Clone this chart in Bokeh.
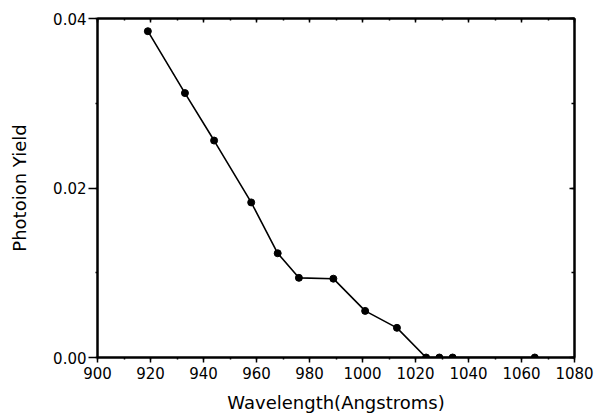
from bokeh.plotting import figure
from bokeh.models import (LinearAxis, PrintfTickFormatter, SingleIntervalTicker, Range1d,
                          CustomLabelingPolicy)
from bokeh.embed import file_html
from bokeh.resources import INLINE

wavelength = [919, 933, 944, 958, 968, 976, 989, 1001, 1013, 1024, 1029, 1034, 1065]
photoion_yield = [0.0385, 0.0312, 0.0256, 0.0183, 0.0123, 0.0094, 0.0093, 0.0055,
                  0.0035, 0.0, 0.0, 0.0, 0.0]
x_label = "Wavelength(Angstroms)"
y_label = "Photoion Yield"

FONT = "DejaVu Sans"

p = figure(width=596, height=415, output_backend="svg", toolbar_location=None,
           x_range=Range1d(900, 1080), y_range=Range1d(0, 0.04),
           x_axis_label=x_label, y_axis_label=y_label,
           min_border_left=97, min_border_right=22, min_border_top=18, min_border_bottom=57)
p.grid.visible = False
p.outline_line_color = "black"
p.outline_line_width = 2
p.background_fill_color = "white"
p.border_fill_color = "white"

xt = SingleIntervalTicker(interval=20, num_minor_ticks=2)
yt = SingleIntervalTicker(interval=0.02, num_minor_ticks=2)
p.xaxis.ticker = xt
p.yaxis.ticker = yt
p.yaxis.formatter = PrintfTickFormatter(format="%.2f")

for ax in p.xaxis + p.yaxis:
    ax.axis_line_color = "black"
    ax.axis_line_width = 2
    ax.major_tick_line_color = "black"
    ax.major_tick_line_width = 1.5
    ax.minor_tick_line_color = "black"
    ax.minor_tick_line_width = 1.5
    ax.major_label_text_font = FONT
    ax.major_label_text_font_size = "15px"
    ax.major_label_text_color = "black"
    ax.axis_label_text_font = FONT
    ax.axis_label_text_font_size = "18px"
    ax.axis_label_text_font_style = "normal"
    ax.axis_label_text_color = "black"

p.xaxis.major_tick_in = 0
p.xaxis.major_tick_out = 5
p.xaxis.minor_tick_in = 0
p.xaxis.minor_tick_out = 2
p.xaxis.major_label_standoff = 4
p.xaxis.axis_label_standoff = 10

p.yaxis.major_tick_in = 0
p.yaxis.major_tick_out = 9
p.yaxis.minor_tick_in = 0
p.yaxis.minor_tick_out = 2
p.yaxis.major_label_standoff = 2
p.yaxis.axis_label_standoff = 20

top = LinearAxis(ticker=SingleIntervalTicker(interval=20, num_minor_ticks=2),
                 major_label_policy=CustomLabelingPolicy(code="return new Set()"),
                 major_label_text_font_size="0px", major_label_standoff=0,
                 major_tick_in=4, major_tick_out=0,
                 minor_tick_in=2, minor_tick_out=0, axis_line_width=2,
                 major_tick_line_width=1.5, minor_tick_line_width=1.5)
p.add_layout(top, "above")
right = LinearAxis(ticker=SingleIntervalTicker(interval=0.02, num_minor_ticks=2),
                   major_label_policy=CustomLabelingPolicy(code="return new Set()"),
                   major_label_text_font_size="0px", major_label_standoff=0,
                   major_tick_in=5, major_tick_out=0,
                   minor_tick_in=3, minor_tick_out=0, axis_line_width=2,
                   major_tick_line_width=1.5, minor_tick_line_width=1.5)
p.add_layout(right, "right")

p.line(wavelength, photoion_yield, line_color="black", line_width=1.6)
p.scatter(wavelength, photoion_yield, size=7, fill_color="black", line_color="black")

open("out.html", "w").write(file_html(p, INLINE))
